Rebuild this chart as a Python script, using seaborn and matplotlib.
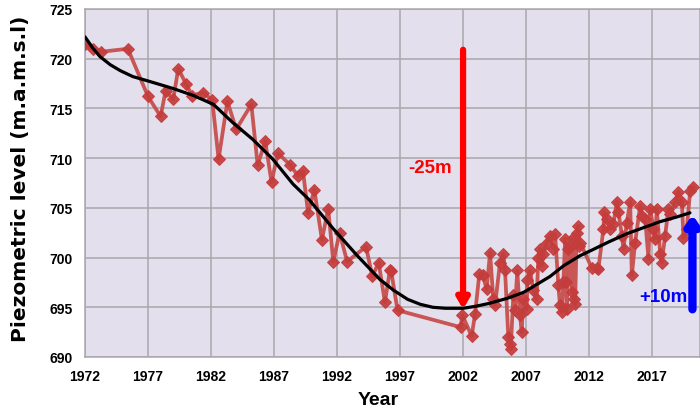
import numpy as np
import pandas as pd
import matplotlib
matplotlib.use("Agg")
import matplotlib.pyplot as plt
import seaborn as sns

# ---- data ----
years = [1972.0, 1972.6, 1973.3, 1975.4, 1977.0, 1978.0, 1978.4, 1979.0, 1979.4, 1980.0,
         1980.5, 1981.4, 1982.1, 1982.6, 1983.3, 1984.0, 1985.2, 1985.7, 1986.3, 1986.8,
         1987.3, 1988.3, 1988.9, 1989.3, 1989.7, 1990.2, 1990.8, 1991.3, 1991.7, 1992.2,
         1992.8, 1994.3, 1994.8, 1995.3, 1995.8, 1996.2, 1996.3, 1996.8, 2001.8,
         2001.95, 2002.68, 2002.95, 2003.29, 2003.56, 2003.87, 2004.14, 2004.40, 2004.54,
         2004.93, 2005.20, 2005.33, 2005.59, 2005.73, 2005.78, 2005.99, 2006.12, 2006.30,
         2006.52, 2006.65, 2006.78, 2007.05, 2007.10, 2007.31, 2007.58, 2007.84, 2007.97,
         2008.10, 2008.24, 2008.37, 2008.64, 2008.90, 2009.17, 2009.30, 2009.56, 2009.69,
         2009.83, 2009.96, 2010.10, 2010.17, 2010.23, 2010.36, 2010.49, 2010.63, 2010.76,
         2010.80, 2010.89, 2011.02, 2011.15, 2011.22, 2011.29, 2012.20, 2012.61, 2012.74,
         2013.14, 2013.20, 2013.40, 2013.67, 2013.93, 2014.20, 2014.33, 2014.60, 2014.73,
         2014.99, 2015.26, 2015.39, 2015.65, 2016.05, 2016.18, 2016.45, 2016.71, 2016.84,
         2017.11, 2017.24, 2017.37, 2017.64, 2017.77, 2018.03, 2018.30, 2018.43, 2018.83,
         2019.09, 2019.36, 2019.49, 2019.75, 2020.02, 2020.28]
levels = [721.5, 721.0, 720.7, 721.0, 716.2, 714.2, 716.8, 715.9, 719.0, 717.5,
          716.3, 716.6, 715.8, 709.9, 715.7, 712.9, 715.4, 709.3, 711.7, 707.6,
          710.5, 709.3, 708.2, 708.7, 704.5, 706.8, 701.8, 704.9, 699.6, 702.5,
          699.6, 701.1, 698.1, 699.5, 695.5, 698.8, 698.6, 694.7, 693.0,
          694.2, 692.1, 694.3, 698.35, 698.25, 696.8, 700.5, 695.8, 695.2,
          699.5, 700.4, 698.7, 692.0, 691.3, 690.8, 696.2, 694.7, 698.7,
          694.2, 692.5, 695.8, 694.8, 697.7, 698.7, 696.7, 695.8, 700.0,
          700.9, 699.2, 700.4, 701.5, 702.2, 700.9, 702.4, 697.2, 695.2,
          694.5, 697.5, 701.9, 697.5, 694.8, 700.9, 701.2, 696.5, 702.0,
          695.8, 695.3, 702.5, 703.2, 701.2, 701.5, 699.0, 699.0, 698.9,
          702.9, 704.6, 703.9, 702.9, 703.4, 705.6, 704.6, 702.2, 700.9,
          703.5, 705.6, 698.2, 701.5, 705.2, 704.2, 703.9, 699.9, 704.9,
          702.9, 701.9, 704.9, 700.4, 699.5, 702.2, 704.9, 704.4, 705.6,
          706.6, 705.6, 702.0, 702.9, 706.7, 707.1]

trend_years = [1972.0, 1972.6, 1973.2, 1974.0, 1974.8, 1975.8, 1976.9, 1979.0, 1980.6, 1982.2,
               1983.7, 1985.3, 1986.9, 1988.5, 1989.8, 1991.7, 1993.6, 1995.4, 1996.5, 1997.6,
               1998.6, 1999.6, 2000.6, 2002.0, 2003.0, 2004.1, 2005.5, 2006.8, 2008.9, 2010.0,
               2011.3, 2012.3, 2013.6, 2015.0, 2016.3, 2017.6, 2019.0, 2020.0]
trend_vals = [722.2, 721.1, 720.2, 719.4, 718.8, 718.2, 717.8, 717.0, 716.3, 715.4,
              713.6, 711.9, 709.9, 707.4, 705.8, 702.9, 700.2, 697.8, 696.7, 695.8,
              695.3, 695.0, 694.9, 694.9, 695.1, 695.4, 695.9, 696.5, 698.1, 699.2,
              700.2, 700.8, 701.6, 702.4, 703.0, 703.6, 704.1, 704.5]

yticks = [690, 695, 700, 705, 710, 715, 720, 725]
xticks = [1972, 1977, 1982, 1987, 1992, 1997, 2002, 2007, 2012, 2017]

df = pd.DataFrame({"Year": years, "Level": levels})
tr = pd.DataFrame({"Year": trend_years, "Level": trend_vals})

sns.set_style("whitegrid", {"axes.facecolor": "#E4DFEC", "grid.color": "#A9A6AD",
                            "axes.edgecolor": "#A9A6AD", "text.color": "black",
                            "axes.labelcolor": "black", "xtick.color": "black",
                            "ytick.color": "black"})
plt.rcParams['font.family'] = ['Liberation Sans', 'DejaVu Sans']

fig = plt.figure(figsize=(7, 4.14), dpi=100)
ax = fig.add_axes([85/700, 1 - 358/414, 615/700, 348/414])

sns.lineplot(data=df, x="Year", y="Level", ax=ax, estimator=None, sort=False,
             color="#C54A48", lw=2.7, marker="D", markersize=6.3,
             markerfacecolor="#C43C3C", markeredgecolor="#C43C3C", alpha=0.92, zorder=3)
sns.lineplot(data=tr, x="Year", y="Level", ax=ax, estimator=None, sort=False,
             color="black", lw=2.3, zorder=4)

ax.set_xlim(1972, 2020.8)
ax.set_ylim(690, 725)
ax.set_xticks(xticks)
ax.set_yticks(yticks)
ax.grid(True, color="#A9A6AD", lw=1.1)
for s in ax.spines.values():
    s.set_color("#A9A6AD")
    s.set_linewidth(1.1)
ax.tick_params(length=0, labelsize=10, pad=9, colors="black")
for lab in ax.get_xticklabels() + ax.get_yticklabels():
    lab.set_fontweight("bold")

ax.set_xlabel("Year", fontsize=14, fontweight="bold", color="black")
ax.set_ylabel("Piezometric level (m.a.m.s.l)", fontsize=14.5, fontweight="bold",
              family=["DejaVu Sans"], color="black")
ax.xaxis.set_label_coords(0.476, -0.098)
ax.yaxis.set_label_coords(-0.089, 0.514)

# arrows and annotations
ax.annotate("", xy=(2002.0, 694.8), xytext=(2002.0, 720.9),
            arrowprops=dict(arrowstyle="-|>,head_width=0.35,head_length=0.6",
                            lw=4.5, color="#FF0000", shrinkA=0, shrinkB=0), zorder=5)
ax.text(2001.1, 709.1, "-25m", color="#FF0000", fontsize=13.5, fontweight="bold",
        ha="right", va="center", zorder=5)
ax.annotate("", xy=(2020.2, 704.3), xytext=(2020.2, 694.8),
            arrowprops=dict(arrowstyle="-|>,head_width=0.35,head_length=0.5",
                            lw=6, color="#0000FF", shrinkA=0, shrinkB=0), zorder=5)
ax.text(2019.8, 696.1, "+10m", color="#0000FF", fontsize=13.5, fontweight="bold",
        ha="right", va="center", zorder=5)

fig.savefig("out.png", dpi=100)
